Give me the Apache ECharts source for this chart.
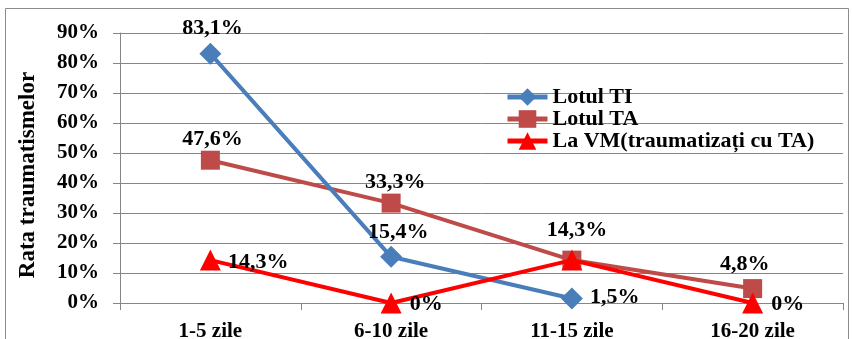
<!DOCTYPE html>
<html>
<head>
<meta charset="utf-8">
<script src="https://cdn.jsdelivr.net/npm/echarts@6/dist/echarts.min.js"></script>
<style>
  html, body { margin: 0; padding: 0; background: #fff; }
  #chart { width: 853px; height: 339px; }
</style>
</head>
<body>
<div id="chart"></div>
<script>
// Interval categories (days)
const categories = ['1-5 zile', '6-10 zile', '11-15 zile', '16-20 zile'];
// Injury rates, percent
const lotulTI = [83.1, 15.4, 1.5, null];
const lotulTA = [47.6, 33.3, 14.3, 4.8];
const laVM = [14.3, 0, 14.3, 0];
// Y axis tick range
const yMin = 0, yMax = 90, yStep = 10;

const serif = '"Liberation Serif", "Times New Roman", serif';
const fmt = v => (v === 0 ? '0%' : v.toFixed(1).replace('.', ',') + '%');

const labelBase = {
  show: true, color: '#000', fontFamily: serif, fontWeight: 'bold', fontSize: 22,
  formatter: p => fmt(p.value)
};

function withLabels(values, labelOpts) {
  return values.map((v, i) => ({
    value: v,
    label: Object.assign({}, labelBase, labelOpts[i])
  }));
}

const chart = echarts.init(document.getElementById('chart'), null, { renderer: 'canvas' });
chart.setOption({
  animation: false,
  backgroundColor: '#fff',
  graphic: [{
    type: 'rect', shape: { x: 5.5, y: 8.5, width: 843, height: 340 },
    style: { fill: 'none', stroke: '#8c8c8c', lineWidth: 1 }, z: -1
  }],
  grid: { left: 120, right: 10, top: 33, bottom: 36, containLabel: false, outerBoundsMode: 'none' },
  legend: {
    orient: 'vertical', left: 505, top: 86, padding: 0, itemWidth: 40, itemHeight: 22, itemGap: 0,
    lineStyle: { width: 5 },
    textStyle: { color: '#000', fontFamily: serif, fontWeight: 'bold', fontSize: 22, lineHeight: 20 },
    data: ['Lotul TI', 'Lotul TA', 'La VM(traumatizați cu TA)']
  },
  xAxis: {
    type: 'category', data: categories, boundaryGap: true,
    axisLine: { lineStyle: { color: '#868686', width: 1 } },
    axisTick: { show: true, length: 7, lineStyle: { color: '#868686' } },
    axisLabel: { color: '#000', fontFamily: serif, fontWeight: 'bold', fontSize: 21, margin: 18 }
  },
  yAxis: {
    type: 'value', min: yMin, max: yMax, interval: yStep,
    name: 'Rata traumatismelor', nameLocation: 'middle', nameGap: 80, nameRotate: 90,
    nameTextStyle: { color: '#000', fontFamily: serif, fontWeight: 'bold', fontSize: 23,
      padding: [0, 14, 0, 0] },
    axisLine: { show: true, lineStyle: { color: '#868686', width: 1 } },
    axisTick: { show: true, length: 7, lineStyle: { color: '#868686' } },
    splitLine: { lineStyle: { color: '#868686', width: 1 } },
    axisLabel: { color: '#000', fontFamily: serif, fontWeight: 'bold', fontSize: 21, margin: 21,
      formatter: v => v + '%' }
  },
  series: [
    {
      name: 'Lotul TI', type: 'line', symbol: 'diamond', symbolSize: 22, z: 3,
      itemStyle: { color: '#4A7EBB' }, lineStyle: { color: '#4A7EBB', width: 4 },
      data: withLabels(lotulTI, [
        { position: 'top', distance: 3, offset: [2, 0] },
        { position: 'top', distance: 2, offset: [7, 0] },
        { position: 'right', distance: 7, offset: [0, -1] },
        {}
      ])
    },
    {
      name: 'Lotul TA', type: 'line', symbol: 'rect', symbolSize: 19, z: 2,
      itemStyle: { color: '#BE4B48' }, lineStyle: { color: '#BE4B48', width: 4 },
      data: withLabels(lotulTA, [
        { position: 'top', distance: 0, offset: [2, 0] },
        { position: 'top', distance: 0, offset: [4, 0] },
        { position: 'top', distance: 9, offset: [5, 0] },
        { position: 'top', distance: 4, offset: [-8, 0] }
      ])
    },
    {
      name: 'La VM(traumatizați cu TA)', type: 'line', symbol: 'triangle', symbolSize: 21, z: 4,
      itemStyle: { color: '#FF0000' }, lineStyle: { color: '#FF0000', width: 4 },
      data: withLabels(laVM, [
        { position: 'right', distance: 7, offset: [0, 2] },
        { position: 'right', distance: 8, offset: [0, 1] },
        { show: false },
        { position: 'right', distance: 8, offset: [0, 1] }
      ])
    }
  ]
});
</script>
</body>
</html>
